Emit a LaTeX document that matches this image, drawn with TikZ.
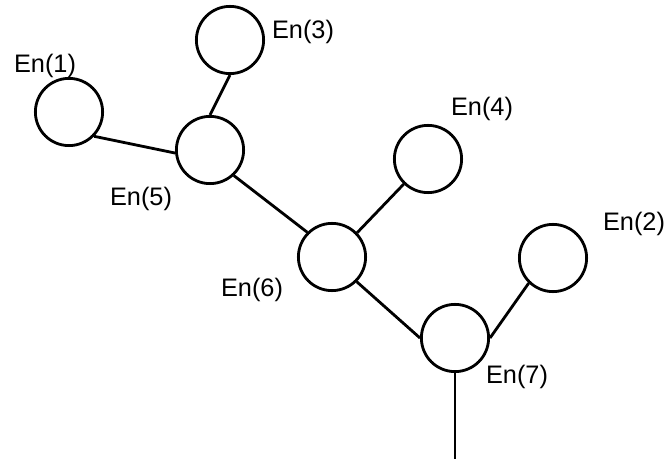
\documentclass[tikz,border=0pt]{standalone}
\usepackage{fontspec}
\setmainfont{Liberation Sans}
\usetikzlibrary{positioning}

\begin{document}
\begin{tikzpicture}[
    x=0.025cm,
    y=-0.025cm,
    entity/.style={
        circle,
        draw,
        line width=2pt,
        minimum size=1.68cm,
        inner sep=0pt
    },
    tag/.style={
        font=\fontsize{18}{20}\selectfont,
        inner sep=0pt
    },
    line/.style={
        draw,
        line width=2pt
    }
]
\useasboundingbox (0,0) rectangle (672,464);

% Nodes
\node [entity] (en1) at (69,112) {};
\node [entity] (en3) at (230,40) {};
\node [entity] (en5) at (210,150) {};
\node [entity] (en4) at (428,159) {};
\node [entity] (en6) at (332,257) {};
\node [entity] (en2) at (553,258) {};
\node [entity] (en7) at (455,338) {};
\coordinate (root) at (455,459);

% Labels
\node [tag] (tag1) at (45,66) {En(1)};
\node [tag] (tag3) at (303,32) {En(3)};
\node [tag] (tag5) at (141,199) {En(5)};
\node [tag] (tag4) at (482,109) {En(4)};
\node [tag] (tag6) at (252,290) {En(6)};
\node [tag] (tag2) at (634,224) {En(2)};
\node [tag] (tag7) at (517,377) {En(7)};

% Edges
\path [line] (en1.-44) -- (en5.185);
\path [line] (en3.south) -- (en5.north);
\path [line] (en5.-47) -- (en6.135);
\path [line] (en6.44) -- (en4.-134);
\path [line] (en6.-45) -- (en7.west);
\path [line] (en7.east) -- (en2.-134);
\path [line] (en7.south) -- (root);

\end{tikzpicture}
\end{document}
